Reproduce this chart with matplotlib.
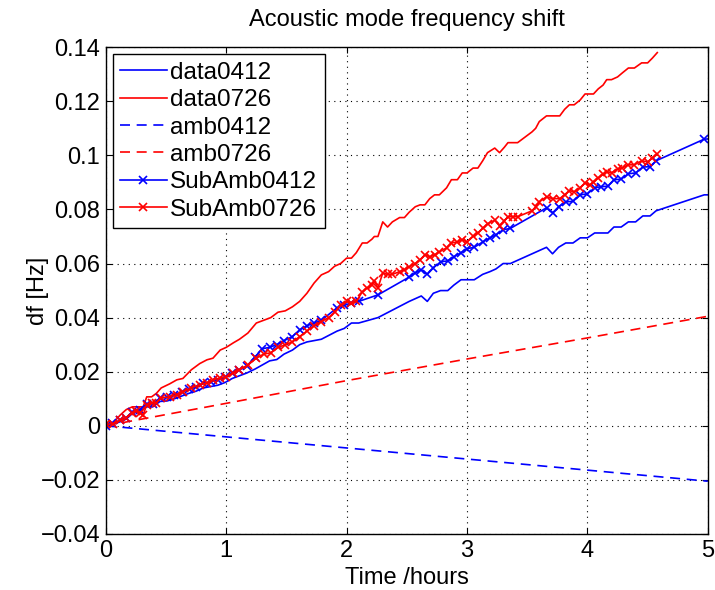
import numpy as np
import matplotlib
matplotlib.use('Agg')
import matplotlib.pyplot as plt

plt.rcParams['font.family'] = ['Liberation Sans', 'DejaVu Sans']

# ---- data ----
t0412 = [0.0, 0.05, 0.12, 0.17, 0.22, 0.28, 0.34, 0.39, 0.45, 0.51, 0.57, 0.63,
         0.69, 0.75, 0.81, 0.87, 0.93, 0.99, 1.05, 1.11, 1.17, 1.24, 1.30, 1.36,
         1.42, 1.48, 1.55, 1.61, 1.67, 1.73, 1.79, 1.92, 1.98, 2.04, 2.10, 2.26,
         2.52, 2.57, 2.62, 2.67, 2.72, 2.78, 2.84, 2.89, 2.95, 3.00, 3.06, 3.13,
         3.19, 3.24, 3.30, 3.36, 3.66, 3.71, 3.76, 3.82, 3.88, 3.94, 4.00, 4.06,
         4.11, 4.17, 4.22, 4.28, 4.34, 4.40, 4.46, 4.52, 4.57, 4.97, 5.05]
data0412 = [0.0, 0.0005, 0.0015, 0.0025, 0.0045, 0.0055, 0.007, 0.007, 0.009, 0.0092, 0.010, 0.011,
            0.012, 0.0128, 0.014, 0.0145, 0.015, 0.016, 0.0175, 0.0185, 0.0195, 0.021, 0.0225, 0.024,
            0.0245, 0.0265, 0.028, 0.030, 0.031, 0.0315, 0.032, 0.035, 0.036, 0.038, 0.038, 0.040,
            0.046, 0.047, 0.048, 0.046, 0.049, 0.050, 0.050, 0.052, 0.054, 0.054, 0.054, 0.056,
            0.057, 0.058, 0.060, 0.060, 0.066, 0.0636, 0.066, 0.0676, 0.0676, 0.0695, 0.0695, 0.0713,
            0.0713, 0.0713, 0.0735, 0.0735, 0.0754, 0.0754, 0.0776, 0.0776, 0.0795, 0.0854, 0.0854]
sub0412 = [0.0, 0.001, 0.002, 0.003, 0.005, 0.006, 0.008, 0.008, 0.0103, 0.0105, 0.0115, 0.0125,
           0.0135, 0.0144, 0.0158, 0.0163, 0.017, 0.018, 0.0196, 0.0207, 0.022, 0.0255, 0.0285, 0.029,
           0.030, 0.0315, 0.033, 0.0355, 0.037, 0.038, 0.039, 0.0436, 0.0445, 0.0455, 0.046, 0.0484,
           0.055, 0.0565, 0.0577, 0.056, 0.0584, 0.0606, 0.061, 0.0625, 0.064, 0.0655, 0.066, 0.068,
           0.0695, 0.0706, 0.0725, 0.073, 0.0806, 0.0787, 0.081, 0.0828, 0.083, 0.0854, 0.0858, 0.088,
           0.0884, 0.0886, 0.091, 0.0912, 0.0932, 0.0935, 0.0957, 0.0958, 0.098, 0.106, 0.1062]

t0726 = [0.0, 0.06, 0.12, 0.17, 0.22, 0.25, 0.28, 0.31, 0.34, 0.38, 0.42, 0.46, 0.53, 0.59,
         0.64, 0.71, 0.78, 0.84, 0.89, 0.95, 1.00, 1.06, 1.11, 1.18, 1.25, 1.31, 1.37, 1.43,
         1.49, 1.55, 1.61, 1.67, 1.73, 1.79, 1.85, 1.90, 1.95, 2.00, 2.04, 2.08, 2.13, 2.17,
         2.21, 2.23, 2.26, 2.30, 2.34, 2.38, 2.44, 2.48, 2.52, 2.57, 2.61, 2.65, 2.69, 2.73,
         2.77, 2.83, 2.87, 2.92, 2.96, 3.00, 3.05, 3.09, 3.13, 3.17, 3.23, 3.27, 3.31, 3.34,
         3.38, 3.42, 3.54, 3.57, 3.60, 3.66, 3.71, 3.77, 3.81, 3.85, 3.89, 3.94, 3.98, 4.02,
         4.05, 4.09, 4.13, 4.16, 4.20, 4.25, 4.29, 4.34, 4.39, 4.45, 4.50, 4.54, 4.58]
data0726 = [0.0, 0.001, 0.004, 0.006, 0.007, 0.007, 0.007, 0.007, 0.0107, 0.0107, 0.012, 0.014, 0.0155, 0.017,
            0.0175, 0.0207, 0.023, 0.0244, 0.025, 0.028, 0.029, 0.0307, 0.032, 0.0343, 0.038, 0.039, 0.040, 0.042,
            0.0425, 0.044, 0.046, 0.049, 0.0528, 0.0558, 0.057, 0.059, 0.060, 0.062, 0.062, 0.064, 0.0676, 0.0676,
            0.069, 0.070, 0.070, 0.0754, 0.0735, 0.0754, 0.077, 0.077, 0.079, 0.081, 0.0817, 0.0817, 0.084, 0.0854,
            0.0854, 0.088, 0.091, 0.091, 0.0935, 0.0935, 0.0953, 0.0953, 0.098, 0.101, 0.1027, 0.101, 0.103, 0.1047,
            0.1047, 0.1047, 0.1087, 0.110, 0.1125, 0.1146, 0.1146, 0.1146, 0.117, 0.1187, 0.1187, 0.1205, 0.1227, 0.1227,
            0.1227, 0.1246, 0.126, 0.128, 0.128, 0.129, 0.1305, 0.1323, 0.1323, 0.1342, 0.1342, 0.136, 0.138]
sub0726 = [0.0005, 0.0008, 0.002, 0.003, 0.0048, 0.0055, 0.0048, 0.004, 0.0078, 0.0085, 0.0085, 0.0103, 0.0107, 0.0115,
           0.0126, 0.014, 0.0152, 0.0158, 0.017, 0.0177, 0.018, 0.0196, 0.0207, 0.0225, 0.025, 0.0265, 0.027, 0.029,
           0.030, 0.031, 0.033, 0.035, 0.037, 0.0385, 0.040, 0.042, 0.0445, 0.046, 0.0455, 0.046, 0.0495, 0.051,
           0.052, 0.0536, 0.051, 0.0565, 0.056, 0.056, 0.057, 0.0577, 0.0588, 0.060, 0.0614, 0.0632, 0.0625, 0.0632,
           0.0643, 0.0658, 0.0676, 0.068, 0.0688, 0.068, 0.070, 0.0713, 0.073, 0.0747, 0.076, 0.074, 0.0758, 0.0773,
           0.0773, 0.0773, 0.0795, 0.081, 0.0828, 0.0847, 0.084, 0.084, 0.0854, 0.087, 0.0865, 0.088, 0.0898, 0.089,
           0.090, 0.0917, 0.093, 0.094, 0.0935, 0.095, 0.0954, 0.0965, 0.0965, 0.098, 0.0976, 0.099, 0.1005]

t_amb = [0, 1, 2, 3, 4, 5]
amb0412 = [0.0, -0.0041, -0.0082, -0.0123, -0.0164, -0.0205]
amb0726 = [0.0, 0.0083, 0.0167, 0.0247, 0.0325, 0.0405]

xticks = [0, 1, 2, 3, 4, 5]
yticks = [-0.04, -0.02, 0, 0.02, 0.04, 0.06, 0.08, 0.1, 0.12, 0.14]
yticklabels = ['\u22120.04', '\u22120.02', '0', '0.02', '0.04', '0.06', '0.08', '0.1', '0.12', '0.14']

fs = 17
fig = plt.figure(figsize=(7.15, 5.9), dpi=100)
ax = fig.add_axes([0.148, 0.095, 0.842, 0.825])

lw = 1.2
dash = (6, 4)
ax.plot(t0412, data0412, color='#0000ff', lw=lw, label='data0412')
ax.plot(t0726, data0726, color='#ff0000', lw=lw, label='data0726')
ax.plot(t_amb, amb0412, color='#0000ff', lw=lw, dashes=dash, label='amb0412')
ax.plot(t_amb, amb0726, color='#ff0000', lw=lw, dashes=dash, label='amb0726')
ax.plot(t0412, sub0412, color='#0000ff', lw=lw, marker='x', ms=6, mew=1.2, label='SubAmb0412')
ax.plot(t0726, sub0726, color='#ff0000', lw=lw, marker='x', ms=6, mew=1.2, label='SubAmb0726')

ax.set_xlim(0, 5)
ax.set_ylim(-0.04, 0.14)
ax.set_xticks(xticks)
ax.set_yticks(yticks)
ax.set_yticklabels(yticklabels)
ax.grid(True, color='black', linestyle=(0, (1, 4)), linewidth=0.8)
ax.tick_params(direction='in', top=True, right=True, length=4, width=0.8,
               labelsize=fs, pad=4)
for s in ax.spines.values():
    s.set_linewidth(1.0)

ax.set_title('Acoustic mode frequency shift', fontsize=fs, pad=15)
ax.set_xlabel('Time /hours', fontsize=fs, labelpad=4)
ax.set_ylabel('df [Hz]', fontsize=fs)
ax.yaxis.set_label_coords(-0.095, 0.5)

leg = ax.legend(loc='upper left', fontsize=17.5, numpoints=1, handlelength=1.9,
                handletextpad=0.15, labelspacing=0.22, borderpad=0.3,
                fancybox=False, framealpha=1, borderaxespad=0.3)
leg.get_frame().set_edgecolor('black')
leg.get_frame().set_linewidth(1.0)

fig.savefig('out.png', dpi=100)
